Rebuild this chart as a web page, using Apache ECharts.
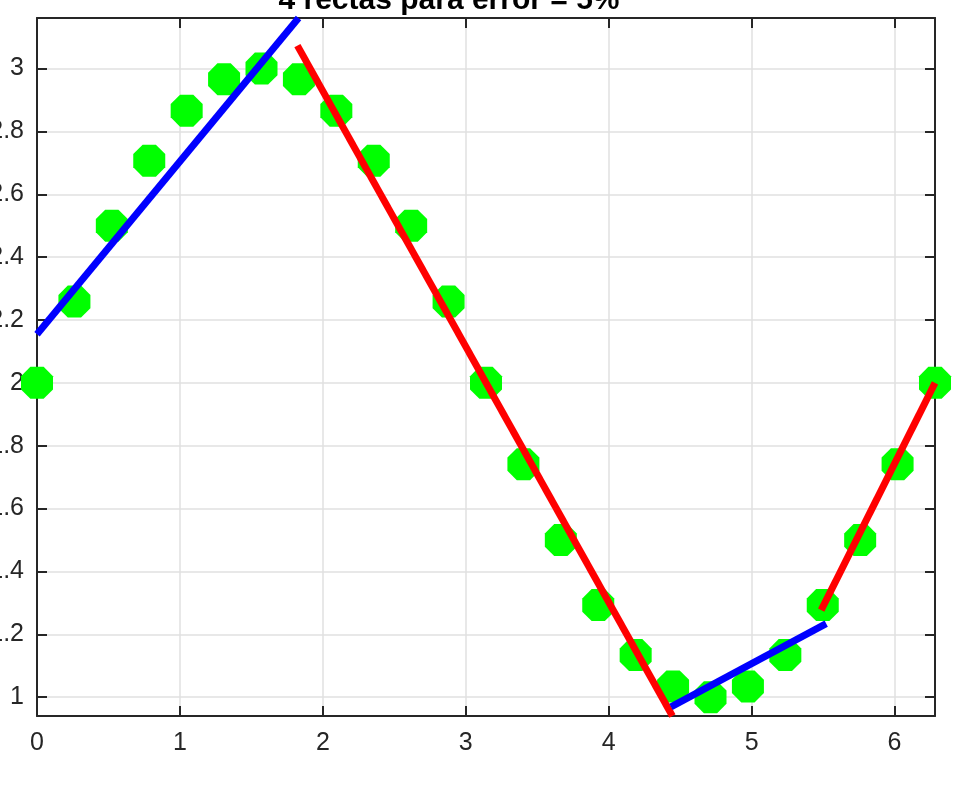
<!DOCTYPE html>
<html>
<head>
<meta charset="utf-8">
<script src="https://cdn.jsdelivr.net/npm/echarts@6/dist/echarts.min.js"></script>
<style>
html,body{margin:0;padding:0;background:#fff;}
#c{width:961px;height:804px;}
</style>
</head>
<body>
<div id="c"></div>
<script>
var titleText = '4 rectas para error = 5%';
var sampleX = [0, 0.2618, 0.5236, 0.7854, 1.0472, 1.3090, 1.5708, 1.8326, 2.0944, 2.3562, 2.6180, 2.8798, 3.1416, 3.4034, 3.6652, 3.9270, 4.1888, 4.4506, 4.7124, 4.9742, 5.2360, 5.4978, 5.7596, 6.0214, 6.2832];
var sampleY = [2, 2.2588, 2.5, 2.7071, 2.8660, 2.9659, 3, 2.9659, 2.8660, 2.7071, 2.5, 2.2588, 2, 1.7412, 1.5, 1.2929, 1.1340, 1.0341, 1, 1.0341, 1.1340, 1.2929, 1.5, 1.7412, 2];
var blueLine1 = [[0, 2.155], [1.83, 3.161]];
var redLine1 = [[1.822, 3.073], [4.446, 0.94]];
var blueLine2 = [[4.436, 0.969], [5.522, 1.234]];
var redLine2 = [[5.487, 1.277], [6.2832, 2]];
var xTicks = [0, 1, 2, 3, 4, 5, 6];
var yTicks = [1, 1.2, 1.4, 1.6, 1.8, 2, 2.2, 2.4, 2.6, 2.8, 3];
var xRange = [0, 6.2832];
var yRange = [0.94, 3.161];

var points = sampleX.map(function (x, i) { return [x, sampleY[i]]; });
var octagon = 'path://M29.3,0L70.7,0L100,29.3L100,70.7L70.7,100L29.3,100L0,70.7L0,29.3Z';
var axisColor = '#262626';
var font = 'Liberation Sans';

function lineSeries(data, color) {
  return {
    type: 'line', data: data, symbol: 'none', clip: false, z: 3,
    lineStyle: { color: color, width: 7, cap: 'butt' },
    emphasis: { disabled: true }, animation: false
  };
}

var chart = echarts.init(document.getElementById('c'), null, { renderer: 'canvas' });
chart.setOption({
  animation: false,
  backgroundColor: '#ffffff',
  grid: { left: 37, right: 26, top: 18, bottom: 88, containLabel: false, outerBoundsMode: 'none' },
  graphic: [{
    type: 'text', x: 449, y: 1, z: 10,
    style: { text: titleText, fill: '#000', font: 'bold 30px "Liberation Sans"', align: 'center', verticalAlign: 'middle' }
  }],
  xAxis: [{
    type: 'value', min: xRange[0], max: xRange[1], position: 'bottom',
    axisLine: { show: true, onZero: false, lineStyle: { color: axisColor, width: 2 } },
    axisTick: { show: true, inside: true, length: 10, customValues: xTicks, lineStyle: { color: axisColor, width: 2 } },
    axisLabel: { show: true, customValues: xTicks, margin: 15, color: axisColor, fontSize: 25, fontFamily: font },
    splitLine: { show: true, lineStyle: { color: '#e0e0e0', width: 1.5 } }
  }, {
    type: 'value', min: xRange[0], max: xRange[1], position: 'top',
    axisLine: { show: true, onZero: false, lineStyle: { color: axisColor, width: 2 } },
    axisTick: { show: true, inside: true, length: 10, customValues: xTicks, lineStyle: { color: axisColor, width: 2 } },
    axisLabel: { show: false },
    splitLine: { show: false }
  }],
  yAxis: [{
    type: 'value', min: yRange[0], max: yRange[1], position: 'left',
    axisLine: { show: true, onZero: false, lineStyle: { color: axisColor, width: 2 } },
    axisTick: { show: true, inside: true, length: 10, customValues: yTicks, lineStyle: { color: axisColor, width: 2 } },
    axisLabel: { show: true, customValues: yTicks, margin: 13, color: axisColor, fontSize: 25, fontFamily: font,
      formatter: function (v) { return String(Math.round(v * 10) / 10); } },
    splitLine: { show: true, lineStyle: { color: '#e0e0e0', width: 1.5 } }
  }, {
    type: 'value', min: yRange[0], max: yRange[1], position: 'right',
    axisLine: { show: true, onZero: false, lineStyle: { color: axisColor, width: 2 } },
    axisTick: { show: true, inside: true, length: 10, customValues: yTicks, lineStyle: { color: axisColor, width: 2 } },
    axisLabel: { show: false },
    splitLine: { show: false }
  }],
  series: [{
    type: 'scatter', data: points, symbol: octagon, symbolSize: 32, clip: false, z: 2,
    itemStyle: { color: '#00ff00', opacity: 1 },
    emphasis: { disabled: true }
  },
    lineSeries(blueLine1, '#0000ff'),
    lineSeries(redLine1, '#ff0000'),
    lineSeries(blueLine2, '#0000ff'),
    lineSeries(redLine2, '#ff0000')
  ]
});
</script>
</body>
</html>
